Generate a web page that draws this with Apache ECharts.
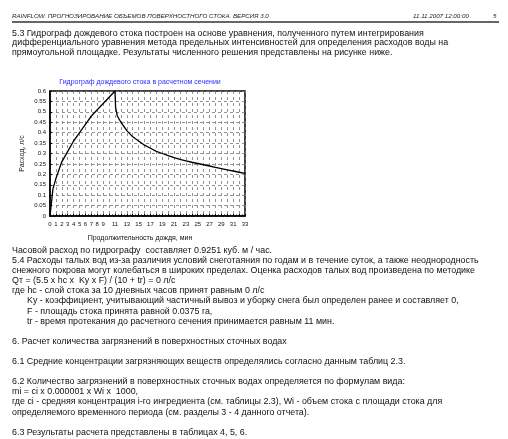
<!DOCTYPE html>
<html>
<head>
<meta charset="utf-8">
<script src="https://cdn.jsdelivr.net/npm/echarts@6/dist/echarts.min.js"></script>
<style>
html, body { margin: 0; padding: 0; background: #fff; }
#page { width: 508px; height: 439px; }
</style>
</head>
<body>
<div id="page"></div>
<script>
// hydrograph: time, min / flow, l/s
var timeMin = [0, 0.5, 1, 2, 3, 4, 5, 6, 7, 8, 9, 10, 11,
    11.1, 11.4, 12, 13, 14, 15, 16, 17, 18, 19, 20, 21, 22,
    23, 24, 25, 26, 27, 28, 29, 30, 31, 32, 33];
var flowLps = [0, 0.13, 0.18, 0.26, 0.31, 0.36, 0.40, 0.44, 0.48, 0.51, 0.54, 0.57, 0.60,
    0.52, 0.48, 0.45, 0.41, 0.38, 0.36, 0.34, 0.325, 0.31, 0.30, 0.29, 0.28, 0.272,
    0.265, 0.258, 0.252, 0.246, 0.24, 0.233, 0.227, 0.221, 0.216, 0.21, 0.205];
var yTicks = [0, 0.6, 0.05];

var textTop = [
    '5.3 Гидрограф дождевого стока построен на основе уравнения, полученного путем интегрирования',
    'дифференциального уравнения метода предельных интенсивностей для определения расходов воды на',
    'прямоугольной площадке. Результаты численного решения представлены на рисунке ниже.'
];
var textBottom = [
    ['Часовой расход по гидрографу  составляет 0.9251 куб. м / час.', 0],
    ['5.4 Расходы талых вод из-за различия условий снеготаяния по годам и в течение суток, а также неоднородность', 0],
    ['снежного покрова могут колебаться в широких пределах. Оценка расходов талых вод произведена по методике', 0],
    ['Qт = (5.5 x hc x  Ky x F) / (10 + tr) = 0 л/с', 0],
    ['где hc - слой стока за 10 дневных часов принят равным 0 л/с', 0],
    ['Ky - коэффициент, учитывающий частичный вывоз и уборку снега был определен ранее и составляет 0,', 1],
    ['F - площадь стока принята равной 0.0375 га,', 1],
    ['tr - время протекания до расчетного сечения принимается равным 11 мин.', 1],
    ['', 0],
    ['6. Расчет количества загрязнений в поверхностных сточных водах', 0],
    ['', 0],
    ['6.1 Средние концентрации загрязняющих веществ определялись согласно данным таблиц 2.3.', 0],
    ['', 0],
    ['6.2 Количество загрязнений в поверхностных сточных водах определяется по формулам вида:', 0],
    ['mi = ci x 0.000001 x Wi x  1000,', 0],
    ['где ci - средняя концентрация i-го ингредиента (см. таблицы 2.3), Wi - объем стока с площади стока для', 0],
    ['определяемого временного периода (см. разделы 3 - 4 данного отчета).', 0],
    ['', 0],
    ['6.3 Результаты расчета представлены в таблицах 4, 5, 6.', 0]
];

var font = '"Liberation Sans", Arial, sans-serif';
var graphics = [
    { type: 'text', left: 12, top: 13, style: { text: 'RAINFLOW. ПРОГНОЗИРОВАНИЕ ОБЪЕМОВ ПОВЕРХНОСТНОГО СТОКА. ВЕРСИЯ 3.0',
        font: 'italic 6.2px ' + font, fill: '#222' } },
    { type: 'text', left: 413, top: 13, style: { text: '11.11.2007 12:00:00', font: 'italic 6.2px ' + font, fill: '#222' } },
    { type: 'text', left: 493, top: 13, style: { text: '5', font: 'italic 6.2px ' + font, fill: '#222' } },
    { type: 'rect', shape: { x: 12, y: 21, width: 487, height: 2 }, style: { fill: '#666' } }
];
textTop.forEach(function (s, i) {
    graphics.push({ type: 'text', left: 12, top: 29 + i * 9.5,
        style: { text: s, font: '8.9px ' + font, fill: '#111' } });
});
textBottom.forEach(function (r, i) {
    if (!r[0]) return;
    graphics.push({ type: 'text', left: r[1] ? 27 : 12, top: 246 + i * 10.1,
        style: { text: r[0], font: '8.9px ' + font, fill: '#111' } });
});

var chart = echarts.init(document.getElementById('page'));
chart.setOption({
    animation: false,
    title: {
        text: 'Гидрограф дождевого стока в расчетном сечении',
        left: 140, top: 79, textAlign: 'center', padding: 0,
        textStyle: { fontSize: 7, fontWeight: 'normal', color: '#2b2bff', fontFamily: font }
    },
    grid: { left: 50, top: 91, width: 195, height: 125, show: true, borderColor: '#000', borderWidth: 1.5 },
    xAxis: {
        type: 'value', min: 0, max: 33, interval: 1,
        name: 'Продолжительность дождя, мин', nameLocation: 'middle', nameGap: 19,
        nameTextStyle: { fontSize: 7, color: '#111', fontFamily: font, align: 'center', padding: [0, 0, 0, -15] },
        axisLine: { lineStyle: { color: '#000', width: 1.5 } },
        axisTick: { show: true, length: 2, inside: true, lineStyle: { color: '#000' } },
        minorTick: { show: true, splitNumber: 2, length: 1.5, lineStyle: { color: '#000' } },
        axisLabel: { fontSize: 6, color: '#111', fontFamily: font, margin: 5,
            formatter: function (v) { return (v <= 9 || v % 2 === 1) ? String(v) : ''; } },
        splitLine: { show: true, lineStyle: { color: '#777', type: [3, 3], width: 0.8 } }
    },
    yAxis: {
        type: 'value', min: yTicks[0], max: yTicks[1], interval: yTicks[2],
        name: 'Расход, л/с', nameLocation: 'middle', nameGap: 24, nameRotate: 90,
        nameTextStyle: { fontSize: 7, color: '#111', fontFamily: font },
        axisLine: { show: true, lineStyle: { color: '#000', width: 1.5 } },
        axisTick: { show: true, length: 2, inside: true, lineStyle: { color: '#000' } },
        axisLabel: { fontSize: 6, color: '#111', fontFamily: font, margin: 4,
            formatter: function (v) { return String(+v.toFixed(2)); } },
        splitLine: { show: true, lineStyle: { color: '#777', type: [3, 3], width: 0.8 } }
    },
    series: [{
        type: 'line',
        data: timeMin.map(function (t, i) { return [t, flowLps[i]]; }),
        showSymbol: false,
        lineStyle: { color: '#000', width: 1.3 },
        smooth: false
    }],
    graphic: graphics
});
</script>
</body>
</html>
